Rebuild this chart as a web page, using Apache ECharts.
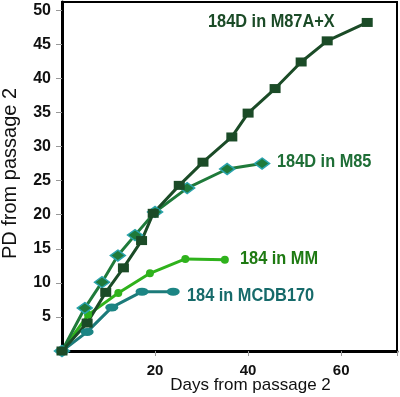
<!DOCTYPE html>
<html>
<head>
<meta charset="utf-8">
<script src="https://cdn.jsdelivr.net/npm/echarts@6/dist/echarts.min.js"></script>
<style>html,body{margin:0;padding:0;background:#fff}#c{width:400px;height:397px}</style>
</head>
<body>
<div id="c"></div>
<script>
// Data (days, PD)
var m87Days = [0, 5.4, 9.4, 13.2, 17.1, 19.6, 25.2, 30.3, 36.5, 40, 45.8, 51.4, 57, 65.6];
var m87PD   = [0, 4.1, 8.6, 12.2, 16.2, 20.2, 24.3, 27.7, 31.4, 34.9, 38.5, 42.4, 45.5, 48.2];
var m85Days = [0, 4.9, 8.6, 12.0, 15.7, 20.0, 26.9, 35.5, 43.0];
var m85PD   = [0, 6.3, 10.1, 14.0, 17.0, 20.4, 23.9, 26.7, 27.5];
var mmDays  = [0, 5.6, 12.1, 18.9, 26.5, 35.0];
var mmPD    = [0, 5.3, 8.5, 11.4, 13.5, 13.4];
var mcdbDays = [0, 5.4, 10.7, 17.2, 23.9];
var mcdbPD   = [0, 2.8, 6.4, 8.7, 8.7];
var xTicks = [20, 40, 60];
var yTicks = [5, 10, 15, 20, 25, 30, 35, 40, 45, 50];
var seriesNames = ['184D in M87A+X', '184D in M85', '184 in MM', '184 in MCDB170'];

function pairs(xs, ys) { return xs.map(function (x, i) { return [x, ys[i]]; }); }

var chart = echarts.init(document.getElementById('c'));
var labelFont = '"Liberation Sans", Arial, sans-serif';
var sx = 0.86;
chart.setOption({
  animation: false,
  grid: { left: 62, right: 3, top: 2, bottom: 46, show: true, borderColor: '#000', borderWidth: 2, outerBoundsMode: 'none', containLabel: false },
  xAxis: {
    type: 'value', min: 0, max: 72, interval: 20,
    name: 'Days from passage 2', nameLocation: 'middle', nameGap: 26, nameMoveOverlap: false,
    nameTextStyle: { fontSize: 17, color: '#111', fontFamily: 'Liberation Sans, Arial, sans-serif', padding: [0, 0, 0, 42] },
    axisLine: { lineStyle: { color: '#000', width: 3 } },
    axisTick: { show: true, length: 5, lineStyle: { color: '#999', width: 1 } },
    axisLabel: {
      margin: 12, fontSize: 15, fontWeight: 'bold', color: '#111', fontFamily: 'Liberation Sans, Arial, sans-serif',
      formatter: function (v) { return xTicks.indexOf(v) >= 0 ? String(v) : ''; }
    },
    splitLine: { show: false }
  },
  yAxis: {
    type: 'value', min: 0, max: 51.2, interval: 5,
    name: 'PD from passage 2', nameLocation: 'middle', nameGap: 42, nameMoveOverlap: false,
    nameTextStyle: { fontSize: 20, color: '#111', fontFamily: 'Liberation Sans, Arial, sans-serif', padding: [0, 0, 0, 6] },
    axisLine: { lineStyle: { color: '#000', width: 3 } },
    axisTick: { show: true, length: 6, lineStyle: { color: '#999', width: 1 } },
    axisLabel: {
      margin: 11, fontSize: 16, fontWeight: 'bold', color: '#111', fontFamily: 'Liberation Sans, Arial, sans-serif',
      showMaxLabel: false,
      formatter: function (v) { return yTicks.indexOf(v) >= 0 ? String(v) : ''; }
    },
    splitLine: { show: false }
  },
  series: [
    {
      name: seriesNames[3], type: 'line', data: pairs(mcdbDays, mcdbPD),
      symbol: 'circle', symbolSize: [13, 8], showAllSymbol: true,
      lineStyle: { color: '#1c7b7a', width: 3 }, itemStyle: { color: '#1c8584' }
    },
    {
      name: seriesNames[2], type: 'line', data: pairs(mmDays, mmPD),
      symbol: 'circle', symbolSize: 8, showAllSymbol: true,
      lineStyle: { color: '#2fb21c', width: 3 }, itemStyle: { color: '#2fb21c' }
    },
    {
      name: seriesNames[1], type: 'line', data: pairs(m85Days, m85PD),
      symbol: 'diamond', symbolSize: [15, 11], showAllSymbol: true,
      lineStyle: { color: '#1f7a3a', width: 3 },
      itemStyle: { color: '#1f7a3a', borderColor: '#2aa3ac', borderWidth: 1.5 }
    },
    {
      name: seriesNames[0], type: 'line', data: pairs(m87Days, m87PD),
      symbol: 'rect', symbolSize: [11, 9], showAllSymbol: true,
      lineStyle: { color: '#1b4b27', width: 3 }, itemStyle: { color: '#1b4b27' }
    }
  ],
  graphic: [
    { type: 'text', x: 208, y: 12, scaleX: sx, style: { text: seriesNames[0], fill: '#1b4b27', font: 'bold 19px ' + labelFont } },
    { type: 'text', x: 277, y: 152, scaleX: sx, style: { text: seriesNames[1], fill: '#1e6e36', font: 'bold 19px ' + labelFont } },
    { type: 'text', x: 240, y: 249, scaleX: sx, style: { text: seriesNames[2], fill: '#1e7a12', font: 'bold 19px ' + labelFont } },
    { type: 'text', x: 187, y: 286, scaleX: sx, style: { text: seriesNames[3], fill: '#166a6a', font: 'bold 19px ' + labelFont } }
  ]
});
</script>
</body>
</html>
